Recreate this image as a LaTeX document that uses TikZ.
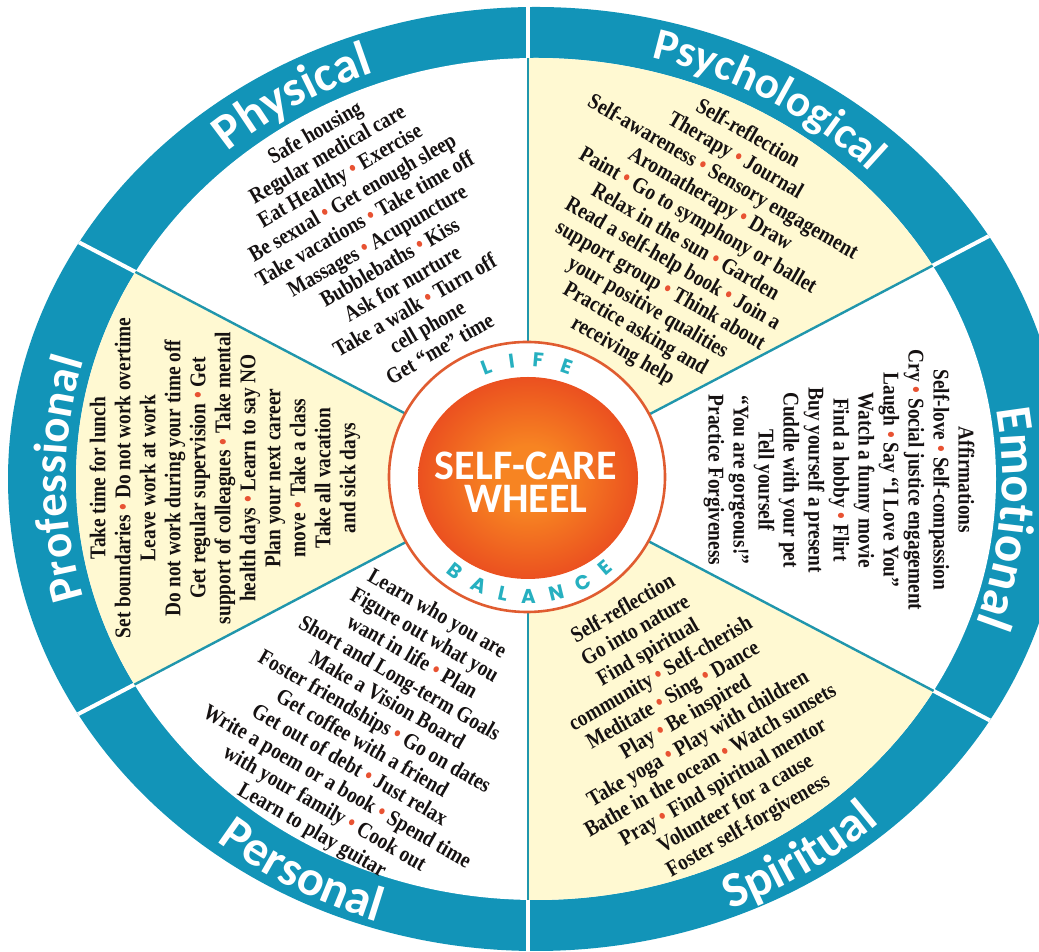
\documentclass[tikz,border=0pt]{standalone}
\usepackage{fontspec}
\usetikzlibrary{decorations.text}

% fonts
\newfontfamily\bodyserif[FakeStretch=0.86]{Liberation Serif}
\newfontfamily\labelsans{Carlito}
\newfontfamily\ringsans{Poppins}

% colours
\definecolor{bandblue}{RGB}{18,148,184}
\definecolor{cream}{RGB}{255,249,210}
\definecolor{spoke}{RGB}{32,150,172}
\definecolor{ringred}{RGB}{224,92,48}
\definecolor{hubcore}{RGB}{247,132,34}
\definecolor{hubrim}{RGB}{228,50,30}
\definecolor{lifeteal}{RGB}{38,176,192}
\definecolor{dotred}{RGB}{232,82,50}
\definecolor{ink}{RGB}{22,18,18}

\pgfdeclareradialshading{hubglow}{\pgfpoint{0bp}{0bp}}{%
  color(0bp)=(hubcore); color(8bp)=(hubcore); color(35bp)=(hubrim); color(50bp)=(hubrim)}

\newcommand{\bu}{{\color{dotred}\textbullet}}
\newcommand{\catfont}[1]{\labelsans\bfseries\fontsize{#1}{#1}\selectfont\color{white}}
\newcommand{\ringstyle}{\ringsans\bfseries\fontsize{20}{24}\selectfont\color{lifeteal}}

\begin{document}
\begin{tikzpicture}[x=1pt,y=1pt,
  block/.style={align=center, inner sep=0pt, text=ink,
    font=\bodyserif\bfseries\fontsize{22.5}{25}\selectfont},
  catlabel/.style 2 args={decorate, decoration={text along path, text align=center,
    text={|\catfont{#2}|#1}}},
  ringword/.style={decorate, decoration={text along path, text align={fit to path},
    text={|\ringstyle|#1}}},
  spokeline/.style={spoke, line width=2.4pt},
  rimgap/.style={white, line width=4pt},
]
\useasboundingbox (0,0) rectangle (1039,952);
\clip (0,0) rectangle (1039,952);
\fill[white] (0,0) rectangle (1039,952);

\coordinate (C) at (528,474);   % hub centre
\coordinate (W) at (536,473);   % rim centre

% spoke end points (slightly wider horizontally)
\foreach \a in {30,90,150,210,270,330}
  \path (C) ++({660*cos(\a)},{600*sin(\a)}) coordinate (s\a);

% blue rim with white gaps
\fill[bandblue] (W) ellipse [x radius=528, y radius=472];
\begin{scope}
  \clip (W) ellipse [x radius=528, y radius=472];
  \foreach \a in {30,90,...,330} \draw[rimgap] (C) -- (s\a);
\end{scope}

% inner face with alternating sectors
\fill[white] (W) ellipse [x radius=460, y radius=421];
\begin{scope}
  \clip (W) ellipse [x radius=460, y radius=421];
  \fill[cream] (C) -- (s30) -- (s90) -- cycle;
  \fill[cream] (C) -- (s150) -- (s210) -- cycle;
  \fill[cream] (C) -- (s270) -- (s330) -- cycle;
  \foreach \a in {30,90,...,330} \draw[spokeline] (C) -- (s\a);
\end{scope}

% hub
\fill[white, draw=ringred, line width=2.6pt] (527,475) ellipse [x radius=138, y radius=135];
\shade[shading=hubglow] (C) ellipse [x radius=110, y radius=101];
\node[font=\labelsans\bfseries\fontsize{42}{33}\selectfont, text=white, align=center, inner sep=0pt]
  (hub) at (526,469.5) {SELF-CARE\\WHEEL};

\path[ringword=LIFE] (C) ++(113:111) arc[start angle=113, end angle=68, radius=111];
\path[ringword=BALANCE] (C) ++(-131:125) arc[start angle=-131, end angle=-47, radius=125];

% category names on the rim
\path[catlabel={Physical}{50}] (W) ++(152:470 and 433)
  arc[start angle=152, end angle=90, x radius=470, y radius=433];
\path[catlabel={Psychological}{45}] (W) ++(90:471 and 435)
  arc[start angle=90, end angle=30, x radius=471, y radius=435];
\path[catlabel={Emotional}{51}] (W) ++(25:466 and 435)
  arc[start angle=25, end angle=-35, x radius=466, y radius=435];
\path[catlabel={Professional}{47}] (W) ++(210:470 and 435)
  arc[start angle=210, end angle=150, x radius=470, y radius=435];
\path[catlabel={Spiritual}{50}] (W) ++(-87:508 and 466)
  arc[start angle=-87, end angle=-27, x radius=508, y radius=466];
\path[catlabel={Personal}{50}] (W) ++(-149:508 and 466)
  arc[start angle=-149, end angle=-89, x radius=508, y radius=466];

% sector contents
\node[block, rotate=30] (physical) at (377,712) {%
  Safe housing\\
  Regular medical care\\
  Eat Healthy \bu{} Exercise\\
  Be sexual \bu{} Get enough sleep\\
  Take vacations \bu{} Take time off\\
  Massages \bu{} Acupuncture\\
  Bubblebaths \bu{} Kiss\\
  Ask for nurture\\
  Take a walk \bu{} Turn off\\
  cell phone\\
  Get “me” time};

\node[block, rotate=-30] (psychological) at (685,709) {%
  Self-reflection\\
  Therapy \bu{} Journal\\
  Self-awareness \bu{} Sensory engagement\\
  Aromatherapy \bu{} Draw\\
  Paint \bu{} Go to symphony or ballet\\
  Relax in the sun \bu{} Garden\\
  Read a self-help book \bu{} Join a\\
  support group \bu{} Think about\\
  your positive qualities\\
  Practice asking and\\
  receiving help};

\node[block, rotate=-90] (emotional) at (839,472) {%
  Affirmations\\
  Self-love \bu{} Self-compassion\\
  Cry \bu{} Social justice engagement\\
  Laugh \bu{} Say “I Love You”\\
  Watch a funny movie\\
  Find a hobby \bu{} Flirt\\
  Buy yourself a present\\
  Cuddle with your pet\\
  Tell yourself\\
  “You are gorgeous!”\\
  Practice Forgiveness};

\node[block, rotate=30] (spiritual) at (686,234) {%
  Self-reflection\\
  Go into nature\\
  Find spiritual\\
  community \bu{} Self-cherish\\
  Meditate \bu{} Sing \bu{} Dance\\
  Play \bu{} Be inspired\\
  Take yoga \bu{} Play with children\\
  Bathe in the ocean \bu{} Watch sunsets\\
  Pray \bu{} Find spiritual mentor\\
  Volunteer for a cause\\
  Foster self-forgiveness};

\node[block, rotate=-30] (personal) at (374,229) {%
  Learn who you are\\
  Figure out what you\\
  want in life \bu{} Plan\\
  Short and Long-term Goals\\
  Make a Vision Board\\
  Foster friendships \bu{} Go on dates\\
  Get coffee with a friend\\
  Get out of debt \bu{} Just relax\\
  Write a poem or a book \bu{} Spend time\\
  with your family \bu{} Cook out\\
  Learn to play guitar};

\node[block, rotate=90] (professional) at (225,474) {%
  Take time for lunch\\
  Set boundaries \bu{} Do not work overtime\\
  Leave work at work\\
  Do not work during your time off\\
  Get regular supervision \bu{} Get\\
  support of colleagues \bu{} Take mental\\
  health days \bu{} Learn to say NO\\
  Plan your next career\\
  move \bu{} Take a class\\
  Take all vacation\\
  and sick days};
\end{tikzpicture}
\end{document}
